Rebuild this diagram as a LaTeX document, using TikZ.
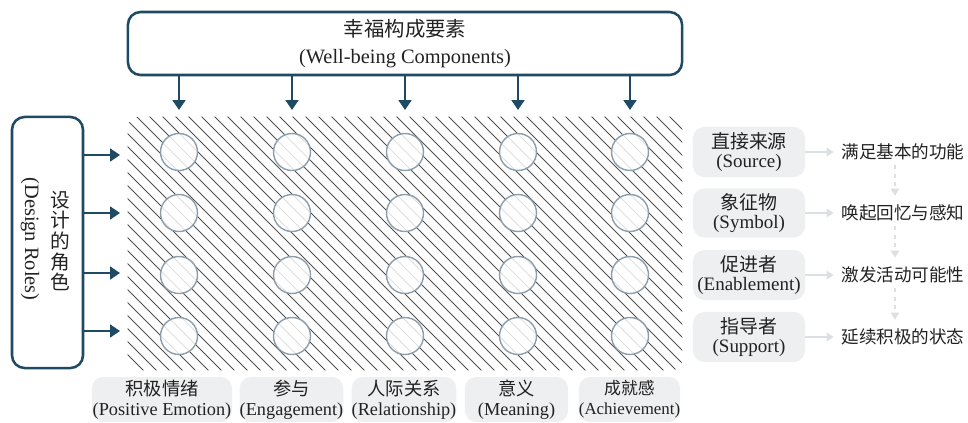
\documentclass[tikz,border=0pt]{standalone}
\usepackage{fontspec}
\setmainfont{Liberation Serif}
\newfontfamily\cjk{Noto Sans CJK SC}
\usetikzlibrary{arrows.meta,calc,positioning}
\definecolor{roleblue}{HTML}{1E4A64}
\definecolor{hatchgray}{HTML}{505050}
\definecolor{ringgray}{HTML}{8C9DAC}
\definecolor{boxgray}{HTML}{EEEFF0}
\definecolor{faintgray}{HTML}{DCE0E3}
\definecolor{inkgray}{HTML}{222222}

\begin{document}
\begin{tikzpicture}[x=0.025cm, y=-0.025cm,
	navybox/.style={draw=roleblue, line width=1.8pt, rounded corners=9pt, inner sep=0pt, align=center, text=inkgray},
	graybox/.style={fill=boxgray, rounded corners=8pt, inner sep=0pt, align=center, text=inkgray},
	navyarrow/.style={draw=roleblue, line width=1.8pt, -{Triangle[length=7pt,width=9pt]}},
	lightarrow/.style={draw=faintgray, line width=1.3pt, -{Triangle[length=5pt,width=6pt]}},
	hatch/.style={draw=hatchgray, line width=0.7pt},
	ring/.style={circle, draw=ringgray, line width=1pt, fill=white, fill opacity=0.82, minimum size=0.925cm, inner sep=0pt}]
		%%%%% START %%%%%
		
		\useasboundingbox (0,0) rectangle (968,422);
		
		% components box on top
		\node[navybox, minimum width=13.85cm, minimum height=1.575cm, font=\fontsize{14.5}{19.5}\selectfont] (comp) at (405,43.5) {{\cjk 幸福构成要素}\\(Well-being Components)};
		
		% hatched field
		\node[minimum width=13.85cm, minimum height=6.325cm, inner sep=0pt] (grid) at (405,243.5) {};
		\begin{scope}
			\clip[rounded corners=8pt] (grid.north west) rectangle (grid.south east);
			\foreach \s in {-260,-247,...,690} \draw[hatch] (\s,110) -- ++(270,270);
		\end{scope}
		
		% circles
		\foreach \j/\cx in {1/179,2/292,3/405,4/518,5/630}{
			\foreach \i/\cy in {1/152,2/213,3/275,4/336}
				\node[ring] (c\i\j) at (\cx,\cy) {};
			\coordinate (in\j) at (\cx,110);
			\draw[navyarrow] (comp.south -| in\j) -- (in\j);
		}
		
		% design roles box on the left
		\node[navybox, minimum width=1.775cm, minimum height=6.275cm] (roles) at (47.5,242.5) {};
		\node[rotate=-90, font=\fontsize{14.5}{17}\selectfont, text=inkgray] (roleseng) at (30,239) {(Design Roles)};
		\node[align=center, font=\cjk\fontsize{14}{14.7}\selectfont, text=inkgray] (rolescn) at (60,241) {设\\计\\的\\角\\色};
		
		\foreach \i/\ry in {1/155,2/213,3/273,4/331}{
			\coordinate (rin\i) at (120,\ry);
			\draw[navyarrow] (roles.east |- rin\i) -- (rin\i);
		}
		
		% role labels on the right
		\node[graybox, minimum width=2.8cm, minimum height=1.25cm, font=\fontsize{13.5}{13.5}\selectfont] (src) at (749,152) {{\cjk 直接来源}\\(Source)};
		\node[graybox, minimum width=2.8cm, minimum height=1.225cm, font=\fontsize{13.5}{13.5}\selectfont] (sym) at (749,213) {{\cjk 象征物}\\(Symbol)};
		\node[graybox, minimum width=2.8cm, minimum height=1.25cm, font=\fontsize{13.5}{13.5}\selectfont] (enb) at (749,275) {{\cjk 促进者}\\(Enablement)};
		\node[graybox, minimum width=2.8cm, minimum height=1.25cm, font=\fontsize{13.5}{13.5}\selectfont] (sup) at (749,337) {{\cjk 指导者}\\(Support)};
		
		\node[font=\cjk\fontsize{12.5}{14}\selectfont, text=inkgray] (fn) at (903,152) {满足基本的功能};
		\node[font=\cjk\fontsize{12.5}{14}\selectfont, text=inkgray] (mem) at (903,213) {唤起回忆与感知};
		\node[font=\cjk\fontsize{12.5}{14}\selectfont, text=inkgray] (act) at (903,275) {激发活动可能性};
		\node[font=\cjk\fontsize{12.5}{14}\selectfont, text=inkgray] (pos) at (903,337) {延续积极的状态};
		
		\draw[lightarrow, shorten >=2pt] (src.east) -- (fn.west);
		\draw[lightarrow, shorten >=2pt] (sym.east) -- (mem.west);
		\draw[lightarrow, shorten >=2pt] (enb.east) -- (act.west);
		\draw[lightarrow, shorten >=2pt] (sup.east) -- (pos.west);
		
		\draw[lightarrow, dashed, shorten >=3pt] ([xshift=-0.2cm]fn.south) -- ([xshift=-0.2cm]mem.north);
		\draw[lightarrow, dashed, shorten >=3pt] ([xshift=-0.2cm]mem.south) -- ([xshift=-0.2cm]act.north);
		\draw[lightarrow, dashed, shorten >=3pt] ([xshift=-0.2cm]act.south) -- ([xshift=-0.2cm]pos.north);
		
		% component labels at the bottom
		\node[graybox, minimum width=3.5cm, minimum height=1.125cm, font=\fontsize{13}{14.2}\selectfont] (emo) at (162,399.5) {{\cjk 积极情绪}\\(Positive Emotion)};
		\node[graybox, minimum width=2.575cm, minimum height=1.125cm, font=\fontsize{13}{14.2}\selectfont] (eng) at (291.5,399.5) {{\cjk 参与}\\(Engagement)};
		\node[graybox, minimum width=2.55cm, minimum height=1.125cm, font=\fontsize{13}{14.2}\selectfont] (rel) at (404,399.5) {{\cjk 人际关系}\\(Relationship)};
		\node[graybox, minimum width=2.575cm, minimum height=1.125cm, font=\fontsize{13}{14.2}\selectfont] (mea) at (516.5,399.5) {{\cjk 意义}\\(Meaning)};
		\node[graybox, minimum width=2.525cm, minimum height=1.125cm, font=\fontsize{12}{14.2}\selectfont] (ach) at (629.5,399.5) {{\cjk 成就感}\\(Achievement)};
		
		%%%%% END %%%%%
\end{tikzpicture}
\end{document}
